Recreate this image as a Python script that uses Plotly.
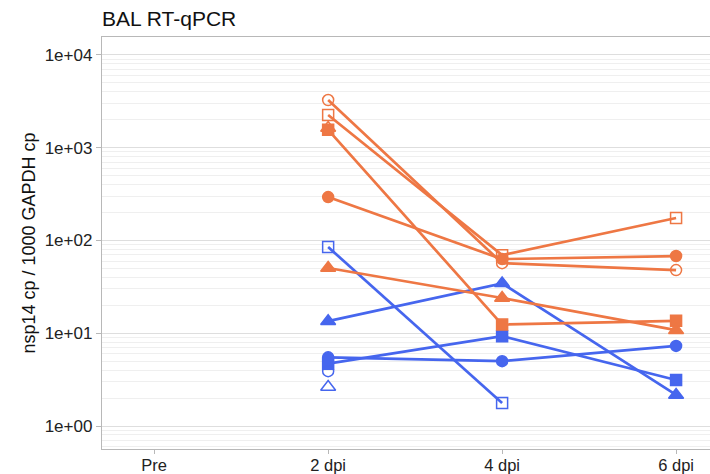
import plotly.graph_objects as go

# ---- data ----
days = ["Pre", "2 dpi", "4 dpi", "6 dpi"]

# orange group
o_open_circle = [None, 3270, 57, 48]
o_open_square = [None, 2255, 69.5, 175]
o_open_triangle = [None, 1630, None, None]
o_filled_square = [None, 1560, 12.4, 13.6]
o_filled_circle = [None, 294, 63, 68]
o_filled_triangle = [None, 50.5, 24, 10.8]

# blue group
b_open_square = [None, 85, 1.77, None]
b_filled_triangle = [None, 13.5, 34.5, 2.16]
b_filled_circle = [None, 5.5, 5.0, 7.3]
b_filled_square = [None, 4.7, 9.3, 3.13]
b_open_circle = [None, 3.9, None, None]
b_open_triangle = [None, 2.63, None, None]

y_tick_vals = [1, 10, 100, 1000, 10000]
y_tick_text = ["1e+00", "1e+01", "1e+02", "1e+03", "1e+04"]

ORANGE = "#EE7744"
BLUE = "#4666EE"

series = [
    (b_open_square, BLUE, "square-open"),
    (b_filled_triangle, BLUE, "triangle-up"),
    (b_filled_circle, BLUE, "circle"),
    (b_filled_square, BLUE, "square"),
    (b_open_circle, BLUE, "circle-open"),
    (b_open_triangle, BLUE, "triangle-up-open"),
    (o_open_circle, ORANGE, "circle-open"),
    (o_open_square, ORANGE, "square-open"),
    (o_open_triangle, ORANGE, "triangle-up-open"),
    (o_filled_square, ORANGE, "square"),
    (o_filled_circle, ORANGE, "circle"),
    (o_filled_triangle, ORANGE, "triangle-up"),
]

fig = go.Figure()
for vals, col, sym in series:
    size = 13 if "triangle" in sym else 11
    fig.add_trace(go.Scatter(
        x=days, y=vals, mode="lines+markers",
        line=dict(color=col, width=2.7),
        marker=dict(symbol=sym, color=col, size=size,
                    line=dict(color=col, width=1.5)),
        connectgaps=False, showlegend=False, hoverinfo="skip"))

fig.update_layout(
    width=710, height=474,
    margin=dict(l=102, r=0, t=37, b=25, autoexpand=False),
    paper_bgcolor="white", plot_bgcolor="white",
    font=dict(family="Liberation Sans, Arial, sans-serif", color="#222222"),
    title=dict(text="BAL RT-qPCR", x=0, xref="paper", xanchor="left",
               y=1 - 19 / 474, yref="container", yanchor="middle",
               font=dict(size=21, color="#111111")),
    showlegend=False,
)
fig.update_xaxes(
    type="category", categoryorder="array", categoryarray=days,
    range=[-0.3, 3.195], automargin=False,
    showgrid=False, zeroline=False,
    showline=True, linecolor="#b8b8b8", linewidth=1.4, mirror=True,
    ticks="outside", ticklen=4, tickcolor="#b8b8b8", tickwidth=1.2,
    ticklabelstandoff=-3,
    tickfont=dict(size=16.5, color="#222222"),
)
fig.update_yaxes(
    type="log", range=[-0.248, 4.194], automargin=False,
    tickvals=y_tick_vals, ticktext=y_tick_text,
    showgrid=True, gridcolor="#dedede", gridwidth=1.2, zeroline=False,
    showline=True, linecolor="#b8b8b8", linewidth=1.4,
    ticks="outside", ticklen=5, tickcolor="#b8b8b8", tickwidth=1.2,
    tickfont=dict(size=17, color="#222222"),
    minor=dict(dtick="D1", showgrid=True, gridcolor="#efefef", gridwidth=1, ticks=""),
    title=dict(text="nsp14 cp / 1000 GAPDH cp", font=dict(size=18, color="#111111"), standoff=4),
)

fig.write_html("out.html", config={"displayModeBar": False},
               post_script="document.body.style.margin='0';")
